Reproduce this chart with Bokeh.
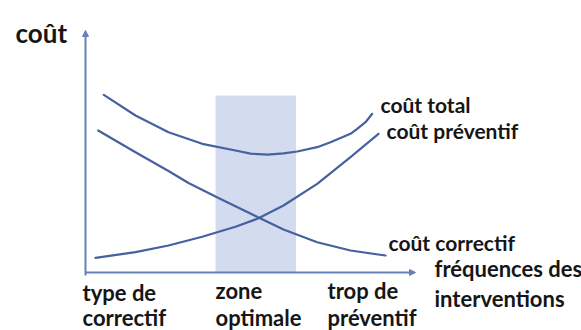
from bokeh.plotting import figure
from bokeh.models import Range1d, Arrow, NormalHead
from bokeh.core.properties import value
from bokeh.embed import file_html
from bokeh.resources import INLINE

# --- data (abstract units: frequency 0..10, cost 0..10) ---
x_total = [0.555, 1.515, 2.515, 3.536, 4.545, 5.0, 5.52, 6.0, 6.415, 7.021, 7.424, 8.03, 8.233, 8.485, 8.688]
y_total = [7.343, 6.488, 5.798, 5.318, 5.041, 4.91, 4.87, 4.92, 5.0, 5.178, 5.384, 5.731, 5.938, 6.211, 6.558]

x_prev = [0.303, 1.515, 2.515, 3.536, 4.545, 5.242, 6.0, 7.021, 8.03, 8.879]
y_prev = [0.607, 0.839, 1.116, 1.475, 1.888, 2.24, 2.769, 3.665, 4.764, 5.731]

x_corr = [0.385, 1.515, 2.515, 3.121, 4.03, 5.242, 6.0, 7.021, 8.03, 9.091]
y_corr = [5.868, 4.971, 4.194, 3.698, 3.079, 2.273, 1.777, 1.252, 0.909, 0.702]

zone_left, zone_right, zone_top = 3.94, 6.38, 7.31
axis_x_max, axis_y_max = 10.0, 10.0

curve_labels = ["coût total", "coût préventif", "coût correctif"]
curve_label_x = [8.939, 9.121, 9.182]
curve_label_y = [6.942, 5.868, 1.240]

axis_x_label = ["fréquences des", "interventions"]
axis_x_label_x = [10.576, 10.576]
axis_x_label_y = [0.165, -1.074]

cat_labels = ["type de", "correctif", "zone", "optimale", "trop de", "préventif"]
cat_x = [-0.091, -0.091, 3.939, 3.939, 7.333, 7.333]
cat_y = [-0.826, -1.860, -0.744, -1.860, -0.744, -1.860]

y_title = "coût"
y_title_x, y_title_y = -2.121, 9.917

LINE = "#4660a0"
AXIS = "#6580ba"
TEXT = "#161616"
FONT = value("Lato")

p = figure(width=581, height=330, output_backend="svg", toolbar_location=None,
           x_range=Range1d(-2.576, 15.03), y_range=Range1d(-2.397, 11.24),
           min_border=0)
p.axis.visible = False
p.grid.visible = False
p.outline_line_color = None
p.background_fill_color = "white"

# optimal zone
p.quad(left=[zone_left], right=[zone_right], bottom=[0], top=[zone_top],
       fill_color="#d3dbee", line_color=None)

# curves
for xs, ys in [(x_total, y_total), (x_prev, y_prev), (x_corr, y_corr)]:
    p.line(xs, ys, line_color=LINE, line_width=2.2, line_cap="round", line_join="round")

# axes with arrows
p.add_layout(Arrow(x_start=0, y_start=-0.12, x_end=0, y_end=axis_y_max,
                   line_color=AXIS, line_width=2,
                   end=NormalHead(size=6, fill_color=AXIS, line_color=AXIS)))
p.add_layout(Arrow(x_start=0, y_start=0, x_end=axis_x_max, y_end=0,
                   line_color=AXIS, line_width=2,
                   end=NormalHead(size=6, fill_color=AXIS, line_color=AXIS)))

# labels
common = dict(text_font=FONT, text_font_style="bold", text_color=TEXT,
              text_baseline="middle", text_align="left")
p.text(x=curve_label_x, y=curve_label_y, text=curve_labels, text_font_size="21px", **common)
p.text(x=axis_x_label_x, y=axis_x_label_y, text=axis_x_label, text_font_size="22px", **common)
p.text(x=cat_x, y=cat_y, text=cat_labels, text_font_size="22px", **common)
p.text(x=[y_title_x], y=[y_title_y], text=[y_title], text_font_size="26px", **common)

open("out.html", "w").write(file_html(p, INLINE))
